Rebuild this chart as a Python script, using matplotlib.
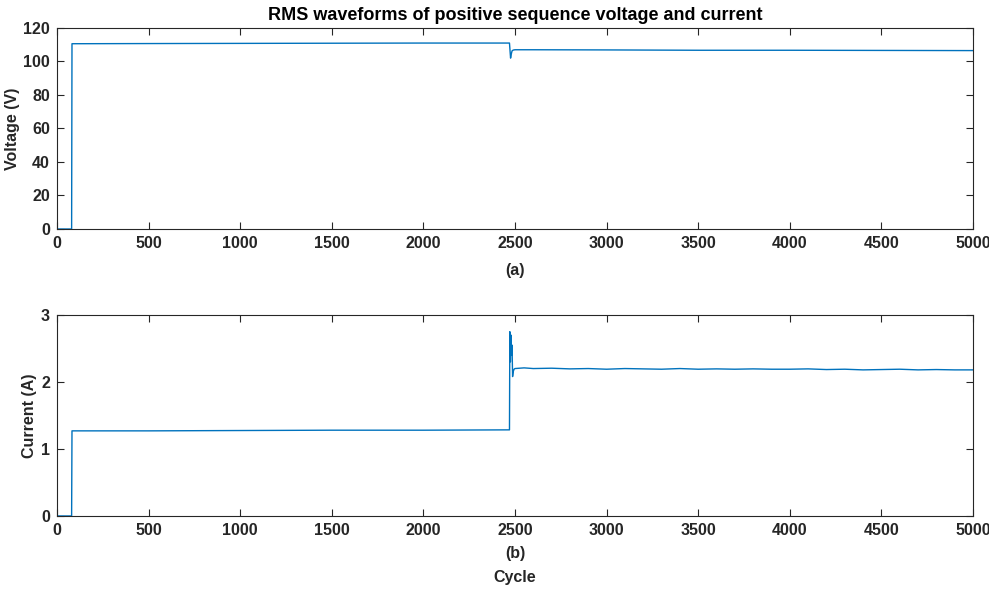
import matplotlib
matplotlib.use("Agg")
import matplotlib.pyplot as plt

plt.rcParams['font.family'] = ['Liberation Sans', 'DejaVu Sans']
plt.rcParams['font.weight'] = 'bold'
text_color = '#262626'
plt.rcParams['text.color'] = text_color
plt.rcParams['axes.labelcolor'] = text_color
plt.rcParams['xtick.color'] = text_color
plt.rcParams['ytick.color'] = text_color
plt.rcParams['axes.edgecolor'] = text_color

# Positive-sequence RMS voltage (V) vs cycle
volt_cycle = [0, 80, 82, 500, 1000, 1500, 2000, 2470, 2472, 2476, 2480, 2484, 2490,
              2500, 2600, 3000, 3500, 4000, 4500, 5000]
volt_val = [0, 0, 110.6, 110.7, 110.8, 110.9, 111.0, 111.0, 108.0, 102.0, 104.5,
            106.3, 106.8, 107.0, 107.0, 106.9, 106.7, 106.7, 106.6, 106.5]

# Positive-sequence RMS current (A) vs cycle
curr_cycle = [0, 80, 82, 500, 1000, 1500, 2000, 2470, 2472, 2475, 2478, 2481,
              2484, 2487, 2490, 2495, 2500, 2550, 2600, 2700, 2800, 2900, 3000,
              3100, 3200, 3300, 3400, 3500, 3600, 3700, 3800, 3900, 4000, 4100,
              4200, 4300, 4400, 4500, 4600, 4700, 4800, 4900, 5000]
curr_val = [0, 0, 1.27, 1.27, 1.275, 1.28, 1.28, 1.285, 2.75, 2.30, 2.70, 2.40,
            2.55, 2.08, 2.15, 2.19, 2.20, 2.21, 2.20, 2.205, 2.195, 2.20, 2.19,
            2.20, 2.195, 2.19, 2.20, 2.19, 2.195, 2.19, 2.195, 2.19, 2.19, 2.195,
            2.185, 2.19, 2.18, 2.185, 2.19, 2.18, 2.185, 2.18, 2.18]

x_ticks = list(range(0, 5001, 500))
line_color = '#0072BD'

fig = plt.figure(figsize=(9.89, 5.89), dpi=100)
ax1 = fig.add_axes([0.0576, 0.6112, 0.9262, 0.3413])
ax2 = fig.add_axes([0.0576, 0.1240, 0.9262, 0.3413])

ax1.plot(volt_cycle, volt_val, color=line_color, lw=1.0)
ax1.set_xlim(0, 5000)
ax1.set_ylim(0, 120)
ax1.set_yticks(range(0, 121, 20))
ax1.set_xticks(x_ticks)
ax1.set_ylabel('Voltage (V)', fontsize=11.5, fontweight='bold', labelpad=2)
ax1.set_xlabel('(a)', fontsize=11.5, fontweight='bold', labelpad=9)
ax1.set_title('RMS waveforms of positive sequence voltage and current',
              fontsize=13, fontweight='bold', pad=6, color='black')

ax2.plot(curr_cycle, curr_val, color=line_color, lw=1.0)
ax2.set_xlim(0, 5000)
ax2.set_ylim(0, 3)
ax2.set_yticks([0, 1, 2, 3])
ax2.set_xticks(x_ticks)
ax2.set_ylabel('Current (A)', fontsize=11.5, fontweight='bold', labelpad=3)
ax2.set_xlabel('(b)\nCycle', fontsize=11.5, fontweight='bold', labelpad=6,
               linespacing=1.75)

for ax in (ax1, ax2):
    ax.tick_params(direction='in', length=5, width=0.8, labelsize=11.5,
                   top=True, right=True, pad=5)
    for lab in ax.get_xticklabels() + ax.get_yticklabels():
        lab.set_fontweight('bold')
    for sp in ax.spines.values():
        sp.set_linewidth(0.8)

fig.savefig('out.png', dpi=100)
